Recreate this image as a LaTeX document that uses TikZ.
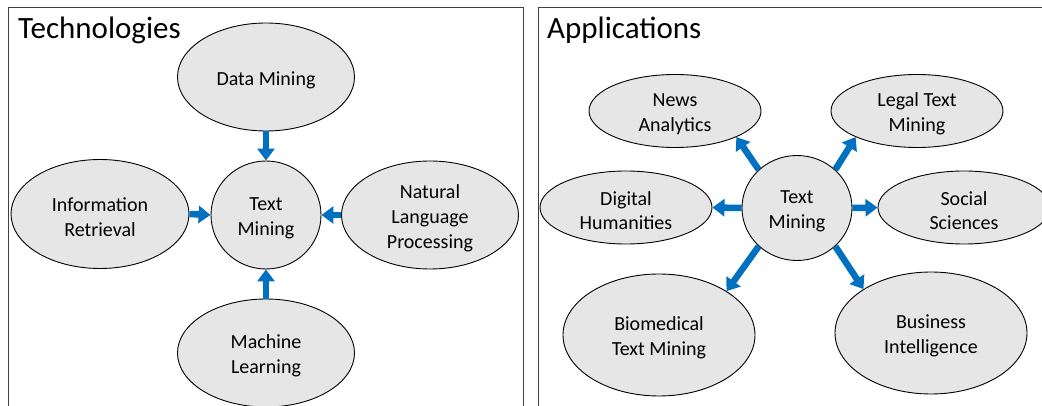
\documentclass[tikz,border=0pt]{standalone}
\usepackage{fontspec}
\setmainfont{Carlito}
\usetikzlibrary{shapes.geometric,arrows.meta}
\definecolor{arrblue}{HTML}{0070C0}
\definecolor{nodefill}{HTML}{E6E6E6}
\definecolor{panelline}{HTML}{404040}
\newcommand{\fstrut}{\rule{0pt}{20pt}}
\tikzset{
  blob/.style={ellipse,draw=black,line width=0.9pt,fill=nodefill,inner sep=0pt,align=center,
    font=\fontsize{20}{24.8}\selectfont},
  hub/.style={blob,minimum width=110pt},
  arr/.style={draw=arrblue,line width=6.5pt,-{Triangle[width=17pt,length=12pt]}},
  paneltitle/.style={anchor=base west,inner sep=0pt,font=\fontsize{31}{36}\selectfont},
  panel/.style={draw=panelline,line width=1pt}
}
\begin{document}
\begin{tikzpicture}[x=1pt,y=-1pt]
\useasboundingbox (0,0) rectangle (1042,406);
% panels
\draw[panel] (8,406) -- (8,8) -- (523,8) -- (523,406);
\draw[panel] (538,406) -- (538,8) -- (1042,8);
\node[paneltitle] (t1) at (18,38.5) {Technologies};
\node[paneltitle] (t2) at (547,38.5) {Applications};
% left panel
\node[hub,minimum height=108pt] (tm1) at (266,215) {\fstrut Text\\Mining};
\node[blob,minimum width=177pt,minimum height=108pt] (dm) at (266,77) {\fstrut Data Mining};
\node[blob,minimum width=178pt,minimum height=109pt] (ir) at (100,214) {\fstrut Information\\Retrieval};
\node[blob,minimum width=177pt,minimum height=108pt] (nlp) at (430,215) {\fstrut Natural\\Language\\Processing};
\node[blob,minimum width=177pt,minimum height=108pt] (ml) at (266,353) {\fstrut Machine\\Learning};
\draw[arr] (dm.south) -- (tm1.north);
\draw[arr] (ir.east) -- (tm1.west);
\draw[arr] (nlp.west) -- (tm1.east);
\draw[arr] (ml.north) -- (tm1.south);
% right panel
\node[hub,minimum height=105pt] (tm2) at (797,208) {\fstrut Text\\Mining};
\node[blob,minimum width=172pt,minimum height=73pt] (news) at (675,111) {\fstrut News\\Analytics};
\node[blob,minimum width=172pt,minimum height=73pt] (legal) at (917,111) {\fstrut Legal Text\\Mining};
\node[blob,minimum width=172pt,minimum height=73pt] (dh) at (626,207.5) {\fstrut Digital\\Humanities};
\node[blob,minimum width=172pt,minimum height=73pt] (soc) at (964,207.5) {\fstrut Social\\Sciences};
\node[blob,minimum width=192pt,minimum height=122pt] (bio) at (659,335) {\fstrut Biomedical\\Text Mining};
\node[blob,minimum width=192pt,minimum height=122pt] (bi) at (931,333) {\fstrut Business\\Intelligence};
\draw[arr] (tm2.135) -- (news.-23);
\draw[arr] (tm2.45) -- (legal.-157);
\draw[arr] (tm2.180) -- (dh.0);
\draw[arr] (tm2.0) -- (soc.180);
\draw[arr] (tm2.225) -- (bio.33);
\draw[arr] (tm2.-45) -- (bi.147);
\end{tikzpicture}
\end{document}
